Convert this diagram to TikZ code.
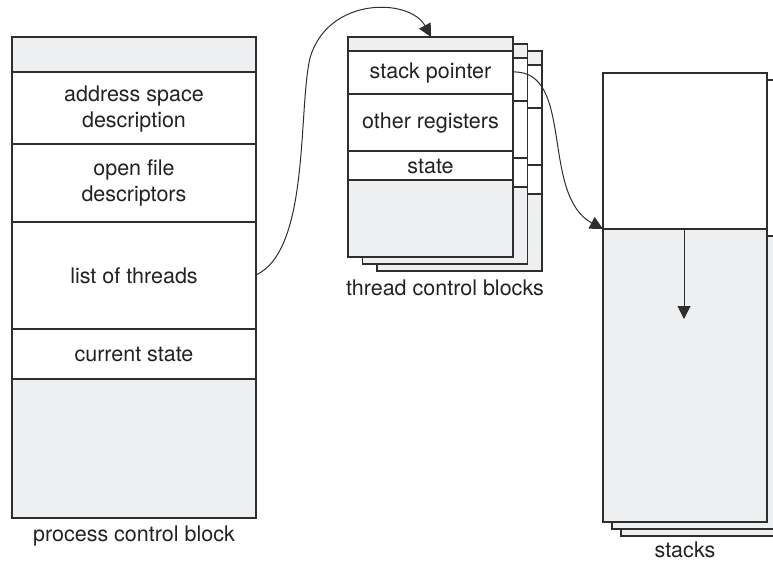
\documentclass[tikz,border=0pt]{standalone}
\usepackage{fontspec}
\setmainfont{TeX Gyre Heros}
\usetikzlibrary{arrows.meta}
\definecolor{boxgray}{HTML}{EEEFF1}
\definecolor{linegray}{HTML}{2E2E2E}
\definecolor{textgray}{HTML}{222222}
\begin{document}
\begin{tikzpicture}[x=1pt,y=-1pt,
  box/.style={draw=linegray, line width=1.2pt},
  lbl/.style={font=\fontsize{21.5}{26}\selectfont, text=textgray, align=center, inner sep=0pt},
  conn/.style={draw=linegray, line width=1pt, -{Triangle[length=13pt,width=13pt]}}]
\useasboundingbox (0,0) rectangle (773,561);

% ---------- process control block ----------
\fill[white] (12,37) rectangle (256,518);
\fill[boxgray] (12,37) rectangle (256,72);
\fill[boxgray] (12,379) rectangle (256,518);
\draw[box] (12,37) rectangle (256,518);
\foreach \yy in {72,144,222,329,379} \draw[box] (12,\yy) -- (256,\yy);
\node[lbl] (addr) at (134,109) {address space\\description};
\node[lbl] (files) at (134,183) {open file\\descriptors};
\node[lbl] (threads) at (134,276) {list of threads};
\node[lbl] (cur) at (134,354) {current state};
\node[lbl] (pcb) at (134,536) {process control block};

% ---------- thread control blocks ----------
\foreach \dx/\dy in {29/14, 14.5/7, 0/0}{
  \begin{scope}[shift={(\dx,\dy)}]
    \fill[white] (348,37) rectangle (513,257);
    \fill[boxgray] (348,37) rectangle (513,51);
    \fill[boxgray] (348,180) rectangle (513,257);
    \draw[box] (348,37) rectangle (513,257);
    \foreach \yy in {51,94,151,180} \draw[box] (348,\yy) -- (513,\yy);
  \end{scope}
}
\node[lbl] (sp) at (430.5,73) {stack pointer};
\node[lbl] (regs) at (430.5,123) {other registers};
\node[lbl] (st) at (430.5,166) {state};
\node[lbl] (tcb) at (445,288) {thread control blocks};

% ---------- stacks ----------
\foreach \dx/\dy in {18/14, 9/7, 0/0}{
  \begin{scope}[shift={(\dx,\dy)}]
    \fill[white] (603,73) rectangle (767,229);
    \fill[boxgray] (603,229) rectangle (767,522);
    \draw[box] (603,73) rectangle (767,522);
    \draw[box] (603,229) -- (767,229);
  \end{scope}
}
\node[lbl] (stacks) at (685,550) {stacks};
\coordinate (stktop) at (684,229);
\coordinate (stkgrow) at (684,319);
\draw[conn] (stktop) -- (stkgrow);

% ---------- connectors ----------
\coordinate (pcbout) at (256,275);
\coordinate (tcbin) at (431,37);
\coordinate (spout) at (513,72);
\coordinate (stkin) at (603,229);
\draw[conn] (pcbout) .. controls (310,250) and (298,110) .. (310,58)
            .. controls (328,-4) and (410,-2) .. (tcbin);
\draw[conn] (spout) .. controls (575,70) and (540,195) .. (stkin);
\end{tikzpicture}
\end{document}
